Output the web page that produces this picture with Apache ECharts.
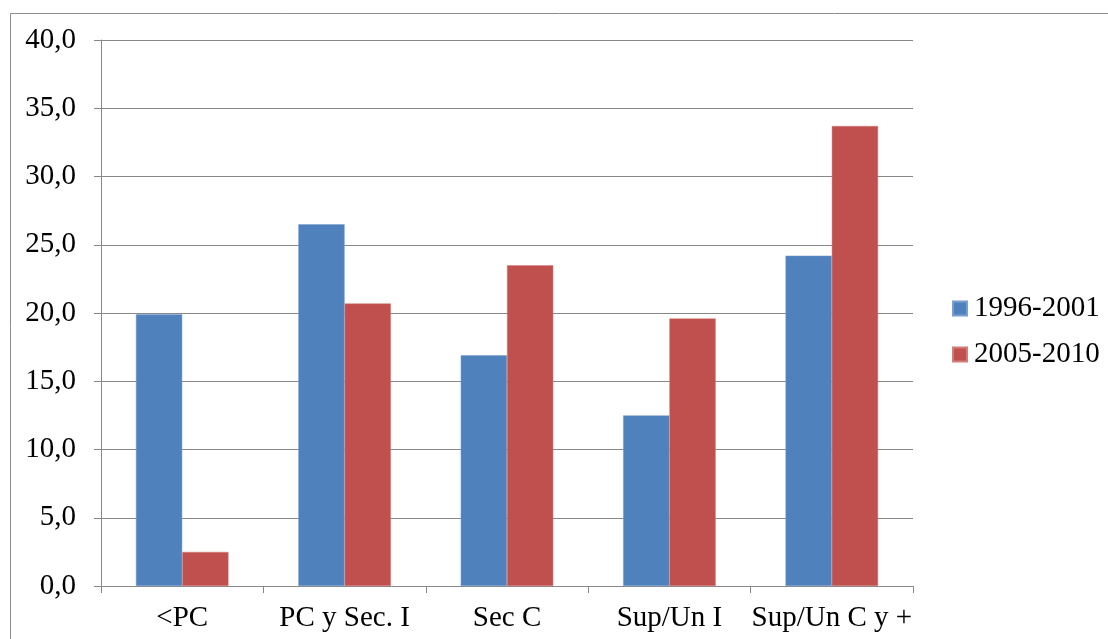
<!DOCTYPE html>
<html><head><meta charset="utf-8">
<script src="https://cdn.jsdelivr.net/npm/echarts@6/dist/echarts.min.js"></script>
<style>html,body{margin:0;padding:0;background:#fff}#c{width:1108px;height:639px}</style>
</head><body><div id="c"></div>
<script>
var categories = ['<PC', 'PC y Sec. I', 'Sec C', 'Sup/Un I', 'Sup/Un C y +'];
var seriesNames = ['1996-2001', '2005-2010'];
var values1996 = [19.9, 26.5, 16.9, 12.5, 24.2];
var values2005 = [2.5, 20.7, 23.5, 19.6, 33.7];
var yTicks = [0, 5, 10, 15, 20, 25, 30, 35, 40];

var chart = echarts.init(document.getElementById('c'));
var font = '"Liberation Serif", "Times New Roman", serif';
chart.setOption({
  animation: false,
  backgroundColor: '#fff',
  graphic: [{
    type: 'rect', shape: {x: 10.5, y: 13.5, width: 1200, height: 700},
    style: {fill: 'none', stroke: '#8c8c8c', lineWidth: 1}, silent: true
  }],
  grid: {left: 101, right: 195, top: 40, bottom: 53},
  legend: {
    orient: 'vertical', left: 952, top: 294, padding: 0,
    icon: 'rect',
    itemWidth: 14, itemHeight: 14, itemGap: 17,
    data: seriesNames,
    textStyle: {fontFamily: font, fontSize: 29, color: '#000', lineHeight: 28, padding: [0, 0, 0, 2]}
  },
  xAxis: {
    type: 'category', data: categories,
    axisLine: {lineStyle: {color: '#888', width: 1}},
    axisTick: {show: true, length: 7, lineStyle: {color: '#888'}},
    axisLabel: {fontFamily: font, fontSize: 29, color: '#000', margin: 18, interval: 0}
  },
  yAxis: {
    type: 'value', min: yTicks[0], max: yTicks[yTicks.length - 1], interval: 5,
    axisLine: {show: true, lineStyle: {color: '#888', width: 1}},
    axisTick: {show: true, length: 7, lineStyle: {color: '#888'}},
    splitLine: {lineStyle: {color: '#888', width: 1}},
    axisLabel: {fontFamily: font, fontSize: 29, color: '#000', margin: 25,
      formatter: function (v) { return v.toFixed(1).replace('.', ','); }}
  },
  series: [
    {name: seriesNames[0], type: 'bar', data: values1996, barGap: '0%', barCategoryGap: '43%',
     itemStyle: {color: '#4F81BD', borderColor: '#7a9fd0', borderWidth: 0.5}},
    {name: seriesNames[1], type: 'bar', data: values2005, barGap: '0%', barCategoryGap: '43%',
     itemStyle: {color: '#C0504D', borderColor: '#d27d7a', borderWidth: 0.5}}
  ]
});
</script></body></html>
